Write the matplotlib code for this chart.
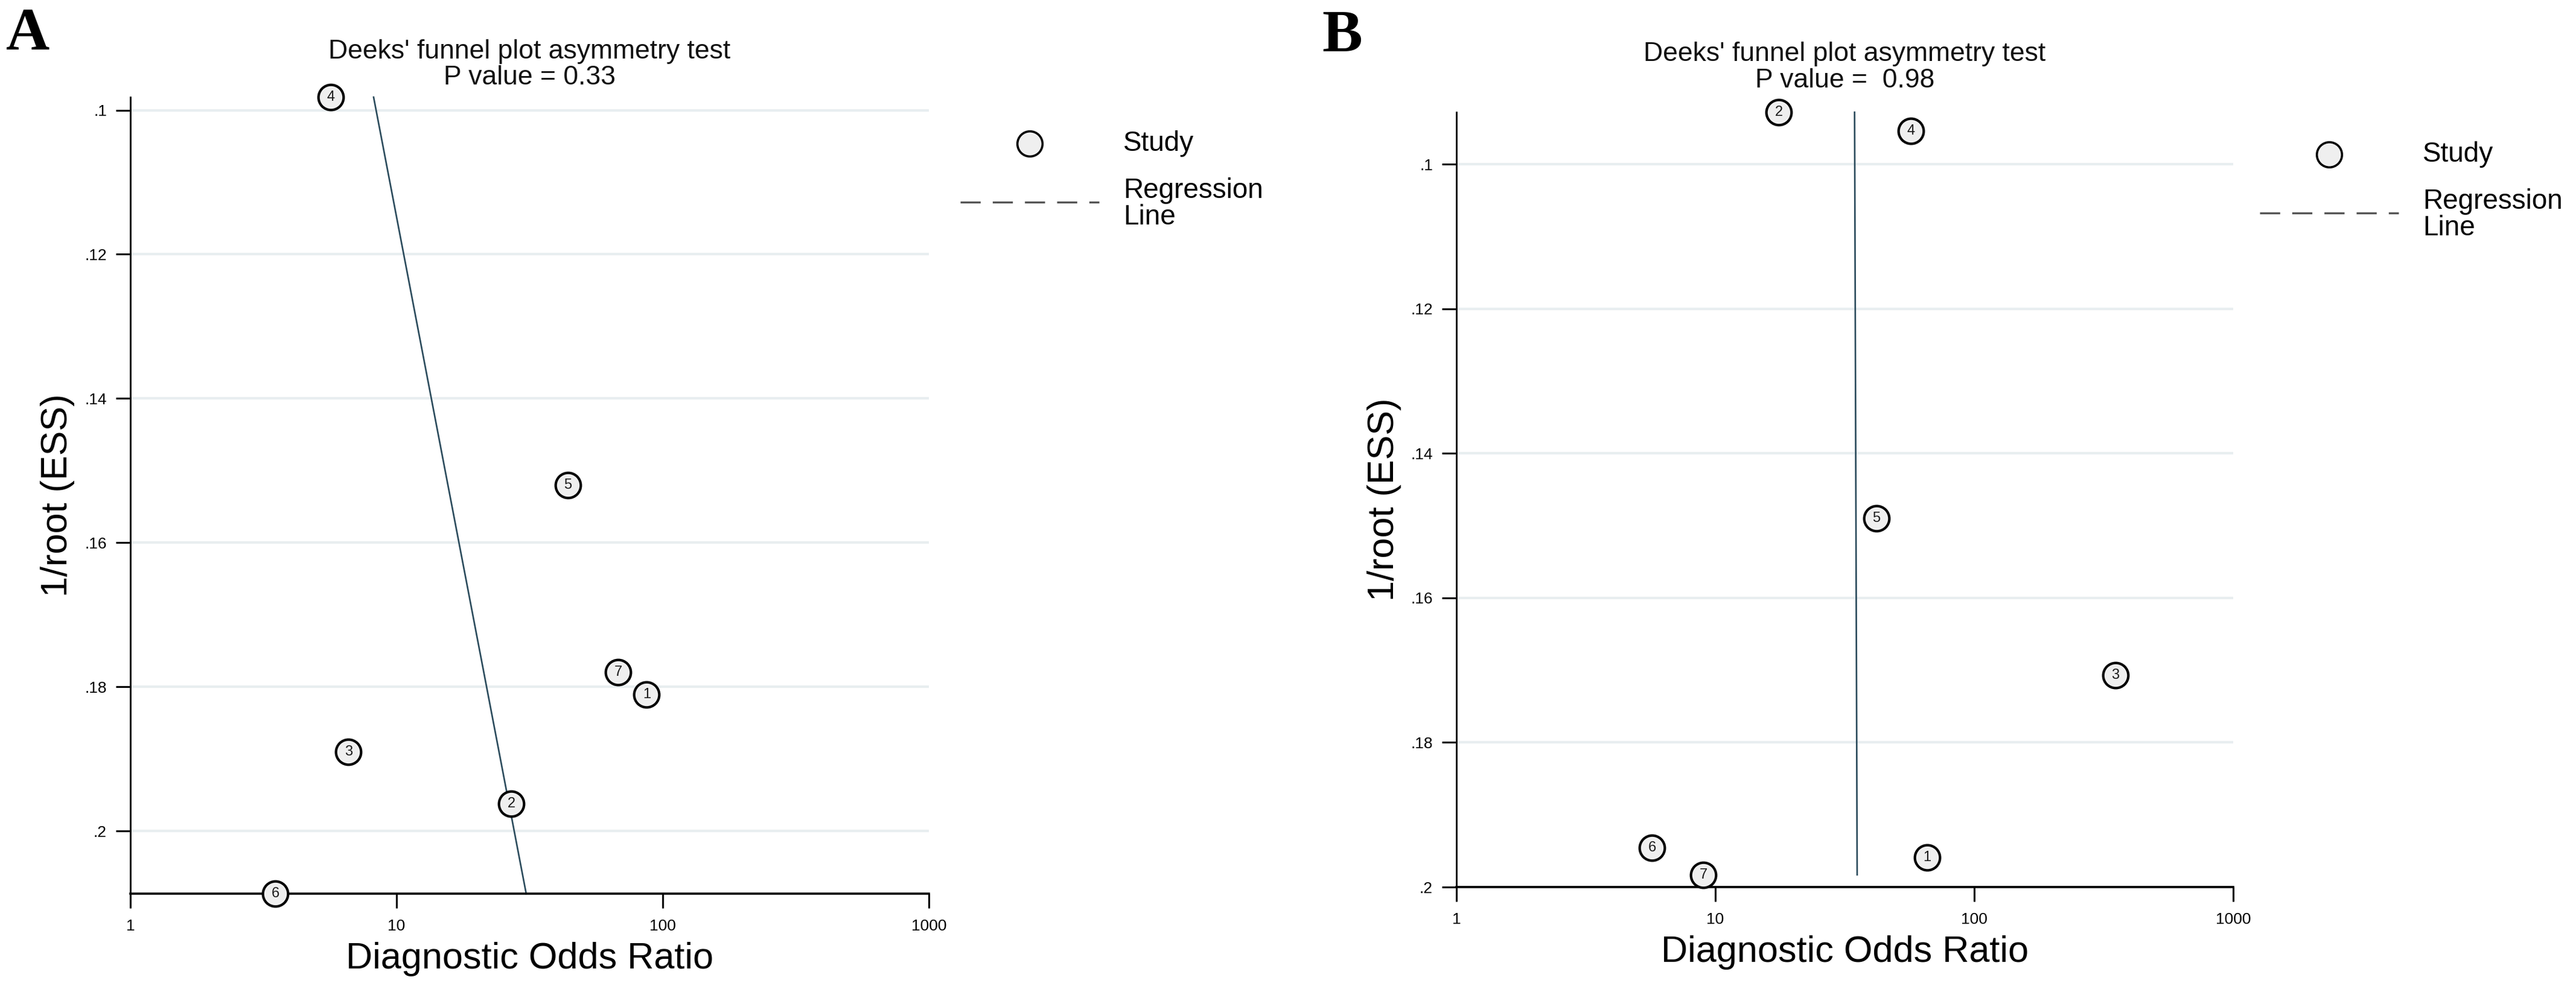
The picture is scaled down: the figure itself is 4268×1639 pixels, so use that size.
import numpy as np
import matplotlib
matplotlib.use("Agg")
import matplotlib.pyplot as plt
from matplotlib.lines import Line2D
from matplotlib.ticker import FixedLocator, NullLocator

# --- data ---
studies = ["1", "2", "3", "4", "5", "6", "7"]

dor_a = [87, 27, 6.6, 5.66, 44, 3.5, 68]
ess_a = [0.1811, 0.1962, 0.189, 0.0982, 0.152, 0.2087, 0.178]
reg_dor_a = [8.2, 30.7]
p_value_a = "0.33"

dor_b = [65.8, 17.6, 351, 56.9, 41.9, 5.7, 9.0]
ess_b = [0.1959, 0.0928, 0.1707, 0.0954, 0.149, 0.1946, 0.1983]
reg_dor_b = [34.5, 35.3]
p_value_b = " 0.98"

x_ticks = [1, 10, 100, 1000]
x_tick_labels = ["1", "10", "100", "1000"]
y_ticks = [0.1, 0.12, 0.14, 0.16, 0.18, 0.2]
y_tick_labels = [".1", ".12", ".14", ".16", ".18", ".2"]

W, H = 4268, 1639
SANS = ["Liberation Sans", "DejaVu Sans"]
SERIF = ["Liberation Serif", "DejaVu Serif"]
LINE_COLOR = "#2b4b5c"
GRID_COLOR = "#e8eef0"
FACE = "#efefef"

plt.rcParams["font.family"] = SANS


def fx(x):
    return x / W


def fy(y):
    return 1 - y / H


def funnel_panel(fig, box, dor, ess, reg_dor, letter, letter_xy, title_y, p_value, legend_xy):
    left, top, right, bottom = box
    ax = fig.add_axes([fx(left), fy(bottom), (right - left) / W, (bottom - top) / H])

    y_top = min(ess)
    y_bottom = max(max(ess), 0.2)
    reg_y = [min(ess), max(ess)]

    ax.set_xscale("log")
    ax.set_xlim(1, 1000)
    ax.set_ylim(y_bottom, y_top)

    ax.plot(reg_dor, reg_y, color=LINE_COLOR, lw=1.9, zorder=2, clip_on=False)
    ax.scatter(dor, ess, s=30 ** 2, facecolor=FACE, edgecolor="black",
               linewidths=3.0, zorder=3, clip_on=False)
    for label, xv, yv in zip(studies, dor, ess):
        ax.text(xv, yv, label, ha="center", va="center", fontsize=17,
                color="#1a1a1a", zorder=4, clip_on=False)

    ax.xaxis.set_major_locator(FixedLocator(x_ticks))
    ax.xaxis.set_minor_locator(NullLocator())
    ax.set_xticklabels(x_tick_labels)
    ax.set_yticks(y_ticks)
    ax.set_yticklabels(y_tick_labels)
    ax.tick_params(axis="both", length=17, width=2.2, direction="out",
                   labelsize=19, color="black")
    ax.tick_params(axis="x", pad=13)
    ax.tick_params(axis="y", pad=11)

    ax.set_axisbelow(True)
    ax.yaxis.grid(True, color=GRID_COLOR, linewidth=3)
    for side in ["top", "right"]:
        ax.spines[side].set_visible(False)
    ax.spines["left"].set_linewidth(2.0)
    ax.spines["bottom"].set_linewidth(2.6)

    cx = (left + right) / 2
    cy = (top + bottom) / 2
    fig.text(fx(cx), fy(bottom + 124), "Diagnostic Odds Ratio", fontsize=44,
             ha="center", va="baseline")
    fig.text(fx(left - 120), fy(cy), "1/root (ESS)", fontsize=44, rotation=90,
             ha="center", va="center")
    fig.text(fx(cx), fy(title_y[0]), "Deeks' funnel plot asymmetry test", fontsize=32,
             ha="center", va="baseline", color="#111111")
    fig.text(fx(cx), fy(title_y[1]), "P value = " + p_value, fontsize=32,
             ha="center", va="baseline", color="#111111")
    fig.text(fx(letter_xy[0]), fy(letter_xy[1]), letter, fontsize=72, family=SERIF,
             weight="bold", ha="left", va="baseline")

    # key on the right of the panel
    kx, ky = legend_xy
    fig.add_artist(Line2D([fx(kx)], [fy(ky)], transform=fig.transFigure, marker="o",
                          markersize=30, markerfacecolor=FACE, markeredgecolor="black",
                          markeredgewidth=2.6, linestyle="none"))
    fig.add_artist(Line2D([fx(kx - 115), fx(kx + 115)], [fy(ky + 97), fy(ky + 97)],
                          transform=fig.transFigure, color="#555555", lw=2.4,
                          linestyle=(0, (10, 6))))
    fig.text(fx(kx + 155), fy(ky), "Study", fontsize=33, ha="left", va="center")
    fig.text(fx(kx + 155), fy(ky + 100), "Regression\nLine", fontsize=33, ha="left",
             va="center", linespacing=1.0)
    return ax


fig = plt.figure(figsize=(W / 100, H / 100), dpi=100)
fig.patch.set_facecolor("white")

funnel_panel(fig, (216, 161, 1539, 1481), dor_a, ess_a, reg_dor_a, "A", (10, 82),
             (97, 140), p_value_a, (1706, 238))
funnel_panel(fig, (2413, 186, 3700, 1470), dor_b, ess_b, reg_dor_b, "B", (2190, 84),
             (101, 145), p_value_b, (3859, 256))

fig.savefig("out.png", dpi=100, facecolor="white")
